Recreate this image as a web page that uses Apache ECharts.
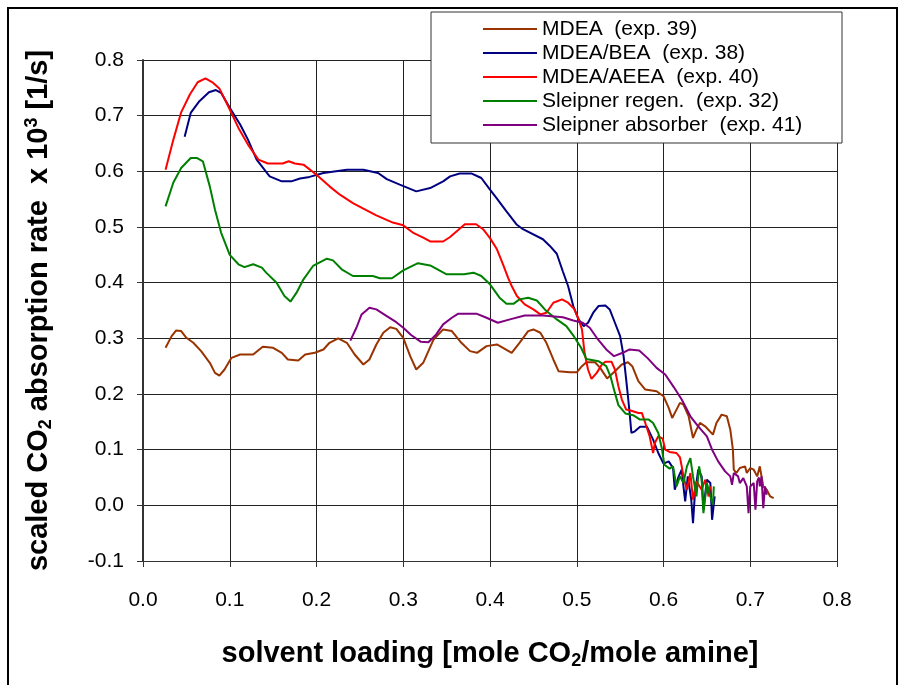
<!DOCTYPE html>
<html>
<head>
<meta charset="utf-8">
<script src="https://cdn.jsdelivr.net/npm/echarts@6/dist/echarts.min.js"></script>
<style>
html, body {margin: 0; padding: 0; background: #fff;}
#chart {width: 900px; height: 685px;}
</style>
</head>
<body>
<div id="chart"></div>
<script>
// [loading, rate] pairs
var mdea = [[0.026,0.283],[0.033,0.304],[0.038,0.314],[0.044,0.313],[0.050,0.301],[0.058,0.292],[0.067,0.277],[0.077,0.256],[0.083,0.238],[0.088,0.233],[0.094,0.244],[0.102,0.265],[0.112,0.271],[0.127,0.271],[0.138,0.285],[0.150,0.283],[0.160,0.274],[0.167,0.262],[0.179,0.260],[0.187,0.271],[0.198,0.274],[0.208,0.280],[0.215,0.292],[0.225,0.300],[0.235,0.292],[0.244,0.271],[0.254,0.253],[0.261,0.262],[0.269,0.289],[0.277,0.310],[0.285,0.320],[0.292,0.317],[0.300,0.301],[0.308,0.268],[0.315,0.244],[0.323,0.256],[0.335,0.298],[0.346,0.316],[0.356,0.313],[0.367,0.292],[0.377,0.277],[0.385,0.274],[0.396,0.286],[0.408,0.289],[0.415,0.283],[0.425,0.274],[0.434,0.292],[0.444,0.313],[0.450,0.316],[0.458,0.310],[0.465,0.292],[0.473,0.262],[0.479,0.241],[0.492,0.239],[0.500,0.239],[0.506,0.250],[0.511,0.257],[0.521,0.257],[0.527,0.247],[0.535,0.228],[0.544,0.241],[0.552,0.253],[0.559,0.257],[0.564,0.250],[0.571,0.223],[0.579,0.208],[0.592,0.205],[0.600,0.196],[0.606,0.175],[0.610,0.157],[0.615,0.172],[0.619,0.184],[0.623,0.181],[0.629,0.160],[0.634,0.121],[0.638,0.136],[0.642,0.148],[0.648,0.142],[0.657,0.127],[0.661,0.148],[0.667,0.163],[0.673,0.160],[0.677,0.136],[0.680,0.100],[0.681,0.064],[0.684,0.058],[0.688,0.067],[0.694,0.070],[0.696,0.058],[0.700,0.067],[0.704,0.064],[0.708,0.052],[0.711,0.070],[0.715,0.034],[0.719,0.028],[0.723,0.016],[0.727,0.013]];
var mdeaBea = [[0.048,0.662],[0.055,0.705],[0.065,0.726],[0.076,0.742],[0.084,0.746],[0.090,0.741],[0.100,0.714],[0.112,0.684],[0.121,0.657],[0.131,0.621],[0.146,0.591],[0.160,0.582],[0.171,0.582],[0.181,0.587],[0.192,0.590],[0.208,0.597],[0.235,0.603],[0.254,0.603],[0.271,0.597],[0.281,0.586],[0.296,0.576],[0.315,0.564],[0.331,0.570],[0.346,0.582],[0.354,0.591],[0.365,0.596],[0.379,0.596],[0.390,0.588],[0.400,0.567],[0.408,0.551],[0.419,0.528],[0.431,0.504],[0.438,0.496],[0.461,0.478],[0.469,0.466],[0.477,0.452],[0.484,0.420],[0.490,0.394],[0.496,0.358],[0.502,0.334],[0.508,0.322],[0.513,0.328],[0.519,0.346],[0.525,0.358],[0.533,0.359],[0.538,0.352],[0.544,0.328],[0.550,0.304],[0.554,0.268],[0.557,0.226],[0.559,0.196],[0.561,0.165],[0.563,0.130],[0.567,0.133],[0.573,0.141],[0.581,0.141],[0.588,0.118],[0.594,0.094],[0.600,0.075],[0.606,0.079],[0.611,0.067],[0.613,0.028],[0.617,0.050],[0.621,0.064],[0.623,0.034],[0.625,0.007],[0.628,0.052],[0.632,0.010],[0.634,-0.032],[0.636,0.016],[0.640,0.064],[0.644,0.052],[0.646,-0.008],[0.650,0.046],[0.654,0.040],[0.656,-0.026],[0.659,0.016]];
var mdeaAeea = [[0.026,0.603],[0.035,0.657],[0.044,0.706],[0.054,0.738],[0.063,0.760],[0.072,0.767],[0.080,0.760],[0.088,0.749],[0.100,0.711],[0.110,0.678],[0.121,0.648],[0.133,0.621],[0.144,0.614],[0.161,0.614],[0.168,0.618],[0.175,0.614],[0.185,0.612],[0.200,0.594],[0.215,0.573],[0.227,0.558],[0.242,0.543],[0.254,0.533],[0.269,0.521],[0.288,0.508],[0.300,0.503],[0.311,0.490],[0.323,0.481],[0.331,0.474],[0.346,0.474],[0.354,0.482],[0.363,0.494],[0.371,0.505],[0.384,0.505],[0.392,0.496],[0.400,0.480],[0.408,0.460],[0.415,0.433],[0.421,0.408],[0.425,0.394],[0.431,0.376],[0.440,0.361],[0.450,0.352],[0.458,0.343],[0.465,0.346],[0.473,0.364],[0.483,0.370],[0.490,0.364],[0.497,0.353],[0.502,0.335],[0.506,0.316],[0.509,0.274],[0.513,0.244],[0.517,0.227],[0.523,0.238],[0.529,0.253],[0.533,0.258],[0.540,0.258],[0.544,0.244],[0.548,0.214],[0.552,0.190],[0.557,0.172],[0.563,0.170],[0.571,0.166],[0.575,0.166],[0.579,0.148],[0.584,0.124],[0.588,0.094],[0.590,0.112],[0.594,0.124],[0.599,0.120],[0.602,0.100],[0.607,0.096],[0.615,0.094],[0.619,0.086],[0.621,0.070],[0.623,0.052],[0.627,0.028],[0.631,0.058],[0.634,0.010],[0.638,0.043],[0.644,0.028],[0.648,0.046],[0.652,0.016],[0.654,0.034]];
var sleipnerRegen = [[0.026,0.537],[0.035,0.580],[0.044,0.606],[0.055,0.624],[0.062,0.624],[0.069,0.618],[0.077,0.573],[0.083,0.531],[0.090,0.490],[0.100,0.450],[0.110,0.433],[0.117,0.428],[0.127,0.433],[0.137,0.427],[0.142,0.418],[0.154,0.400],[0.163,0.376],[0.170,0.366],[0.177,0.382],[0.185,0.406],[0.196,0.430],[0.212,0.443],[0.219,0.440],[0.229,0.424],[0.242,0.412],[0.265,0.412],[0.273,0.408],[0.287,0.408],[0.300,0.422],[0.317,0.435],[0.331,0.431],[0.350,0.415],[0.370,0.415],[0.381,0.418],[0.390,0.412],[0.400,0.397],[0.411,0.373],[0.419,0.362],[0.427,0.362],[0.434,0.370],[0.444,0.373],[0.454,0.368],[0.465,0.349],[0.477,0.334],[0.488,0.322],[0.497,0.303],[0.505,0.283],[0.511,0.263],[0.525,0.259],[0.534,0.250],[0.539,0.231],[0.544,0.202],[0.548,0.180],[0.556,0.165],[0.565,0.162],[0.573,0.154],[0.583,0.154],[0.588,0.148],[0.594,0.130],[0.598,0.103],[0.601,0.073],[0.607,0.066],[0.611,0.070],[0.615,0.034],[0.619,0.052],[0.623,0.040],[0.627,0.070],[0.631,0.085],[0.634,0.052],[0.638,0.016],[0.641,0.070],[0.644,0.046],[0.646,-0.014],[0.650,0.040],[0.654,0.016],[0.657,0.001],[0.658,0.034]];
var sleipnerAbs = [[0.239,0.296],[0.246,0.319],[0.252,0.343],[0.261,0.355],[0.269,0.352],[0.281,0.340],[0.292,0.329],[0.300,0.319],[0.309,0.306],[0.320,0.294],[0.329,0.293],[0.338,0.307],[0.346,0.325],[0.356,0.337],[0.363,0.344],[0.385,0.344],[0.396,0.337],[0.409,0.328],[0.423,0.334],[0.440,0.341],[0.461,0.341],[0.484,0.338],[0.496,0.332],[0.507,0.328],[0.515,0.319],[0.523,0.301],[0.534,0.280],[0.543,0.268],[0.553,0.274],[0.561,0.280],[0.572,0.278],[0.582,0.264],[0.592,0.247],[0.602,0.235],[0.612,0.212],[0.621,0.190],[0.631,0.160],[0.640,0.142],[0.650,0.124],[0.656,0.100],[0.663,0.079],[0.671,0.061],[0.677,0.052],[0.679,0.037],[0.681,0.058],[0.686,0.052],[0.688,0.040],[0.692,0.049],[0.696,0.034],[0.698,-0.014],[0.700,0.034],[0.704,0.040],[0.706,-0.008],[0.708,0.043],[0.710,0.050],[0.711,0.034],[0.713,0.052],[0.715,-0.005],[0.717,0.034],[0.719,0.019]];

var seriesNames = ['MDEA  (exp. 39)', 'MDEA/BEA  (exp. 38)', 'MDEA/AEEA  (exp. 40)', 'Sleipner regen.  (exp. 32)', 'Sleipner absorber  (exp. 41)'];
var seriesData = [mdea, mdeaBea, mdeaAeea, sleipnerRegen, sleipnerAbs];
var seriesColors = ['#993300', '#000080', '#ff0000', '#008000', '#800080'];

var myChart = echarts.init(document.getElementById('chart'));
var font = 'Liberation Sans, Arial, sans-serif';

var series = [];
seriesData.forEach(function (d, i) {
    series.push({
        name: seriesNames[i],
        type: 'line',
        data: d,
        symbol: 'none',
        animation: false,
        lineStyle: {color: seriesColors[i], width: 2},
        itemStyle: {color: seriesColors[i]},
        z: 2
    });
});

var titleRich = {
    b: {fontFamily: font, fontWeight: 'bold', fontSize: 29, color: '#000', lineHeight: 32},
    sub: {fontFamily: font, fontWeight: 'bold', fontSize: 18, color: '#000', lineHeight: 32, verticalAlign: 'bottom', padding: [11, 0, 0, 0]},
    sup: {fontFamily: font, fontWeight: 'bold', fontSize: 18, color: '#000', lineHeight: 32, verticalAlign: 'top', padding: [0, 0, 11, 0]}
};

var option = {
    backgroundColor: '#fff',
    animation: false,
    grid: {left: 143, right: 63, top: 60, bottom: 124},
    legend: {
        data: seriesNames,
        orient: 'vertical',
        left: 478,
        top: 13,
        icon: 'rect',
        itemWidth: 54,
        itemHeight: 2,
        itemGap: 2,
        z: 10,
        textStyle: {fontFamily: font, fontSize: 21, color: '#000', lineHeight: 22}
    },
    xAxis: {
        type: 'value',
        min: 0,
        max: 0.8,
        interval: 0.1,
        axisLine: {show: true, onZero: false, lineStyle: {color: '#333', width: 1}},
        axisTick: {show: true, length: 6, lineStyle: {color: '#333'}},
        splitLine: {show: true, lineStyle: {color: '#222', width: 1}},
        axisLabel: {
            fontFamily: font, fontSize: 21, color: '#000', margin: 29,
            formatter: function (v) { return v.toFixed(1); }
        },
        name: '{b|solvent loading [mole CO}{sub|2}{b|/mole amine]}',
        nameLocation: 'middle',
        nameGap: 77,
        nameTextStyle: {rich: titleRich}
    },
    yAxis: {
        type: 'value',
        min: -0.1,
        max: 0.8,
        interval: 0.1,
        axisLine: {show: true, onZero: false, lineStyle: {color: '#333', width: 2}},
        axisTick: {show: true, length: 6, lineStyle: {color: '#333'}},
        splitLine: {show: true, lineStyle: {color: '#222', width: 1}},
        axisLabel: {
            fontFamily: font, fontSize: 21, color: '#000', margin: 19,
            formatter: function (v) { return v.toFixed(1); }
        },
        name: '{b|scaled CO}{sub|2}{b| absorption rate  x 10}{sup|3}{b| [1/s]}',
        nameLocation: 'middle',
        nameGap: 88,
        nameTextStyle: {rich: titleRich}
    },
    graphic: [
        {
            type: 'rect',
            z: 5,
            shape: {x: 431, y: 12, width: 411, height: 131},
            style: {fill: '#fff', stroke: '#333', lineWidth: 1}
        },
        {
            type: 'rect',
            z: 5,
            shape: {x: 8, y: 8, width: 889, height: 700},
            style: {fill: 'none', stroke: '#000', lineWidth: 2}
        }
    ],
    series: series
};
myChart.setOption(option);
</script>
</body>
</html>
